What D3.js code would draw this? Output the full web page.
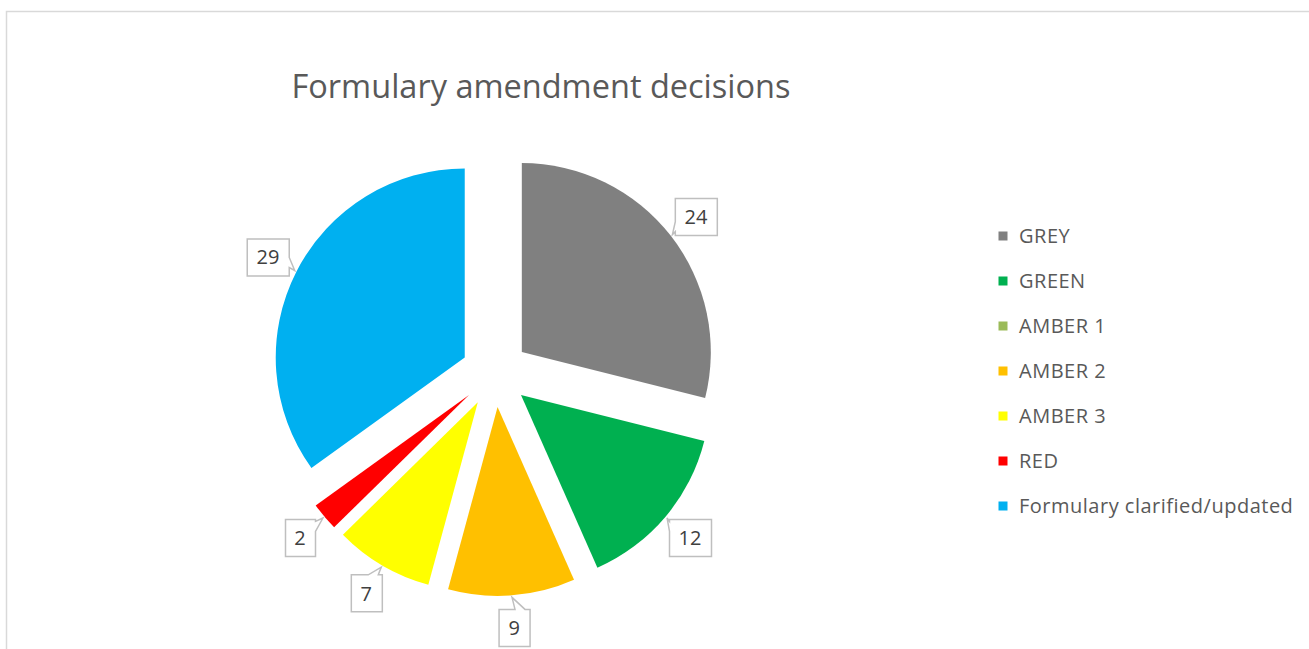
<!DOCTYPE html>
<html>
<head>
<meta charset="utf-8">
<script src="https://cdn.jsdelivr.net/npm/d3@7"></script>
<style>
  body { margin: 0; background: #fff; }
  svg { display: block; }
</style>
</head>
<body>
<div class="chart"></div>
<script>
var categories = ['GREY', 'GREEN', 'AMBER 1', 'AMBER 2', 'AMBER 3', 'RED', 'Formulary clarified/updated'];
var values = [24, 12, 0, 9, 7, 2, 29];
var colours = ['#808080', '#00b050', '#9bbb59', '#ffc000', '#ffff00', '#ff0000', '#00b0f0'];
var title = 'Formulary amendment decisions';

var svgWidth = 1309;
var svgHeight = 649;

var cx = 495, cy = 373;
var radius = 189;
var explode = 34;
var labelDist = 221;

var svg = d3.select('.chart')
  .append('svg')
  .attr('width', svgWidth)
  .attr('height', svgHeight);

// chart area border (runs off the right and bottom of the picture)
svg.append('rect')
  .attr('x', 6.5)
  .attr('y', 11.5)
  .attr('width', 1400)
  .attr('height', 800)
  .attr('fill', '#fff')
  .attr('stroke', '#d9d9d9')
  .attr('stroke-width', 1.5);

svg.append('text')
  .attr('x', 541)
  .attr('y', 98)
  .attr('text-anchor', 'middle')
  .attr('font-family', 'Open Sans, sans-serif')
  .attr('font-size', 32.5)
  .attr('fill', '#595959')
  .text(title);

var data = categories.map(function(c, i) {
  return { name: c, value: values[i], colour: colours[i] };
});

var pie = d3.pie().sort(null).value(function(d) { return d.value; });
var arc = d3.arc().innerRadius(0).outerRadius(radius);

var arcs = pie(data).filter(function(d) { return d.value > 0; });

function mid(d) { return (d.startAngle + d.endAngle) / 2; }
function polar(a, r) { return [Math.sin(a) * r, -Math.cos(a) * r]; }

var chart = svg.append('g').attr('transform', 'translate(' + cx + ',' + cy + ')');

var slices = chart.selectAll('g.slice')
  .data(arcs)
  .enter()
  .append('g')
  .attr('class', 'slice')
  .attr('transform', function(d) {
    var p = polar(mid(d), explode);
    return 'translate(' + p[0] + ',' + p[1] + ')';
  });

slices.append('path')
  .attr('d', arc)
  .attr('fill', function(d) { return d.data.colour; });

// callout labels
function calloutPath(x0, y0, x1, y1, tx, ty) {
  var w = x1 - x0, h = y1 - y0;
  var mx = (x0 + x1) / 2, my = (y0 + y1) / 2;
  var dx = (tx - mx) / (w / 2), dy = (ty - my) / (h / 2);
  var b = 5;
  function clamp(v, lo, hi) { return Math.max(lo, Math.min(hi, v)); }
  var pts;
  if (Math.abs(dx) > Math.abs(dy)) {
    var py = clamp(ty - (ty > my ? 8 : -8), y0 + b + 2, y1 - b - 2);
    if (dx > 0) {
      pts = [[x0, y0], [x1, y0], [x1, py - b], [tx, ty], [x1, py + b], [x1, y1], [x0, y1]];
    } else {
      pts = [[x0, y0], [x1, y0], [x1, y1], [x0, y1], [x0, py + b], [tx, ty], [x0, py - b]];
    }
  } else {
    var px = clamp(tx - (tx > mx ? 8 : -8), x0 + b + 2, x1 - b - 2);
    if (dy > 0) {
      pts = [[x0, y0], [x1, y0], [x1, y1], [px + b, y1], [tx, ty], [px - b, y1], [x0, y1]];
    } else {
      pts = [[x0, y0], [px - b, y0], [tx, ty], [px + b, y0], [x1, y0], [x1, y1], [x0, y1]];
    }
  }
  return 'M' + pts.map(function(p) { return p[0] + ',' + p[1]; }).join('L') + 'Z';
}

slices.each(function(d) {
  var g = d3.select(this);
  var a = mid(d);
  var c = polar(a, labelDist);
  var tip = polar(a, radius + 2);
  var txt = String(d.value);
  var tw = txt.length * 11.5;
  var pad = 9.5;
  var x0 = Math.round(c[0] - tw / 2 - pad) + 0.5;
  var x1 = Math.round(c[0] + tw / 2 + pad) + 0.5;
  var y0 = Math.round(c[1] - 18.5) + 0.5;
  var y1 = Math.round(c[1] + 18.5) + 0.5;
  g.append('path')
    .attr('d', calloutPath(x0, y0, x1, y1, tip[0], tip[1]))
    .attr('fill', '#fff')
    .attr('stroke', '#bfbfbf')
    .attr('stroke-width', 1.5);
  g.append('text')
    .attr('x', c[0])
    .attr('y', c[1] + 7.5)
    .attr('text-anchor', 'middle')
    .attr('font-family', 'Open Sans, sans-serif')
    .attr('font-size', 20)
    .attr('fill', '#404040')
    .text(txt);
});

// legend
var legendY = d3.scalePoint().domain(categories).range([236, 506]);

var legend = svg.append('g').attr('class', 'legend');
var rows = legend.selectAll('g')
  .data(data)
  .enter()
  .append('g')
  .attr('transform', function(d) { return 'translate(1003,' + legendY(d.name) + ')'; });

rows.append('rect')
  .attr('x', -4.5)
  .attr('y', -4.5)
  .attr('width', 9)
  .attr('height', 9)
  .attr('fill', function(d) { return d.colour; });

rows.append('text')
  .attr('x', 16)
  .attr('y', 7)
  .attr('font-family', 'Open Sans, sans-serif')
  .attr('font-size', 20)
  .attr('letter-spacing', 0.5)
  .attr('fill', '#595959')
  .text(function(d) { return d.name; });
</script>
</body>
</html>
